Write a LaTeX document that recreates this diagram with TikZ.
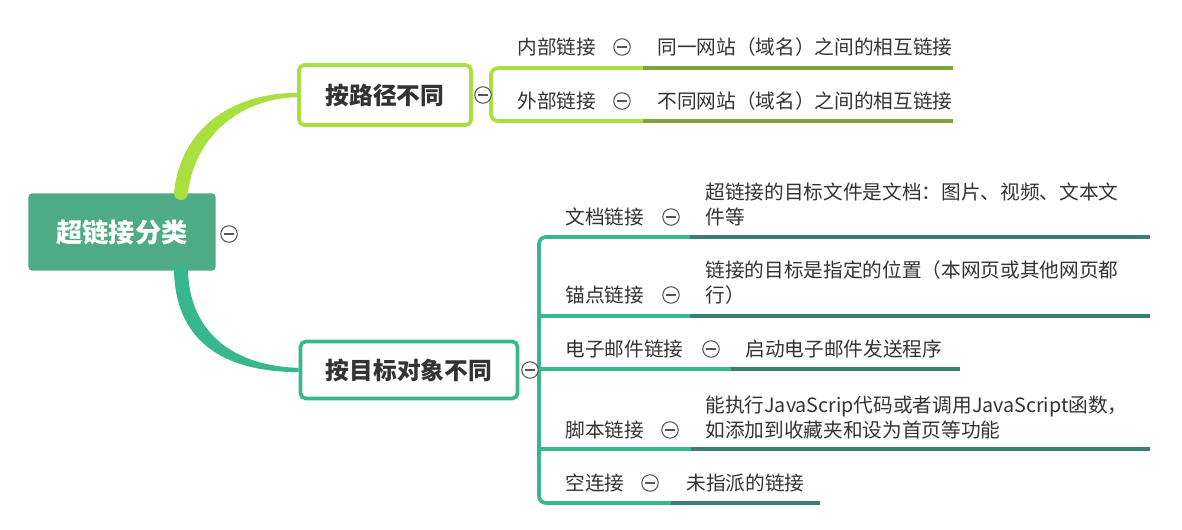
\documentclass[tikz,border=0pt]{standalone}
\usepackage{fontspec}
\setmainfont{Noto Sans CJK SC}
\usetikzlibrary{positioning}

\definecolor{rootgreen}{HTML}{4EAB85}
\definecolor{limegreen}{HTML}{A8E03F}
\definecolor{olivegreen}{HTML}{7EA43A}
\definecolor{tealgreen}{HTML}{38B68E}
\definecolor{darkteal}{HTML}{3A7E74}
\definecolor{textgray}{HTML}{333333}
\definecolor{foldgray}{HTML}{555555}

\tikzset{
    rootbox/.style={fill=rootgreen, draw=white, rounded corners=2pt, minimum width=3.76cm, minimum height=1.56cm, text=white, font=\fontsize{15}{18}\selectfont\bfseries},
    catbox/.style={fill=white, line width=2.1pt, rounded corners=3pt, text=textgray, font=\fontsize{13.5}{16}\selectfont\bfseries},
    leaf/.style={anchor=west, inner sep=0pt, text=textgray, font=\fontsize{11.2}{14.2}\selectfont},
    detail/.style={leaf, align=left},
    fold/.style={circle, draw=foldgray, fill=white, line width=0.6pt, minimum size=0.33cm, inner sep=0pt,
        path picture={\draw[foldgray, line width=0.6pt] ([xshift=-0.1cm]path picture bounding box.center) -- ([xshift=0.1cm]path picture bounding box.center);}},
    limeline/.style={limegreen, line width=2.1pt},
    oliveline/.style={olivegreen, line width=2.1pt},
    tealline/.style={tealgreen, line width=2.1pt},
    darkline/.style={darkteal, line width=2.1pt}
}

\begin{document}
\begin{tikzpicture}[x=0.02cm, y=-0.02cm]
    \useasboundingbox (0,0) rectangle (1182,530);

    % Root
    \node[rootbox] (root) at (122,232) {超链接分类};

    % Categories
    \node[catbox, draw=limegreen, minimum width=3.44cm, minimum height=1.2cm] (bypath) at (385,95) {按路径不同};
    \node[catbox, draw=tealgreen, minimum width=4.34cm, minimum height=1.14cm] (bytarget) at (409,370) {按目标对象不同};

    % Tapered branches
    \coordinate (roottop) at (181,193);
    \coordinate (rootbottom) at (181,271);
    \fill[limegreen] (roottop) circle (7);
    \fill[limegreen] (174,193) .. controls (180,130) and (230,93) .. ([yshift=1.2pt]bypath.west)
        -- ([yshift=-1.2pt]bypath.west) .. controls (236,99) and (194,140) .. (188,193) -- cycle;
    \fill[tealgreen] (rootbottom) circle (7);
    \fill[tealgreen] (174,271) .. controls (176,345) and (228,372) .. ([yshift=-1.2pt]bytarget.west)
        -- ([yshift=1.2pt]bytarget.west) .. controls (236,366) and (190,335) .. (188,271) -- cycle;

    % Path branch leaves
    \draw[limeline, rounded corners=4] (643,68) -- (491,68) -- (491,121) -- (643,121);
    \draw[oliveline] (643,68) -- (953,68);
    \draw[oliveline] (643,121) -- (953,121);

    \node[leaf] (inner) at (517,47) {内部链接};
    \node[fold] (innerfold) at (622,47) {};
    \node[leaf] (innerdesc) at (657,47) {同一网站（域名）之间的相互链接};

    \node[leaf] (outer) at (517,101) {外部链接};
    \node[fold] (outerfold) at (622,101) {};
    \node[leaf] (outerdesc) at (657,101) {不同网站（域名）之间的相互链接};

    % Target branch leaves
    \draw[tealline, rounded corners=4] (690,237) -- (539,237) -- (539,503) -- (671,503);
    \draw[tealline] (539,316) -- (690,316);
    \draw[tealline] (539,369) -- (731,369);
    \draw[tealline] (539,449) -- (691,449);
    \draw[darkline] (690,237) -- (1150,237);
    \draw[darkline] (690,316) -- (1150,316);
    \draw[darkline] (731,369) -- (960,369);
    \draw[darkline] (691,449) -- (1150,449);
    \draw[darkline] (671,503) -- (820,503);

    \node[leaf] (doc) at (565,217) {文档链接};
    \node[fold] (docfold) at (671,217) {};
    \node[detail] (docdesc) at (705,204.5) {超链接的目标文件是文档：图片、视频、文本文\\件等};

    \node[leaf] (anchor) at (565,295) {锚点链接};
    \node[fold] (anchorfold) at (671,295) {};
    \node[detail] (anchordesc) at (705,282.5) {链接的目标是指定的位置（本网页或其他网页都\\行）};

    \node[leaf] (mail) at (565,349) {电子邮件链接};
    \node[fold] (mailfold) at (711,349) {};
    \node[leaf] (maildesc) at (745,349) {启动电子邮件发送程序};

    \node[leaf] (script) at (565,430) {脚本链接};
    \node[fold] (scriptfold) at (670,430) {};
    \node[detail] (scriptdesc) at (705,417.5) {能执行JavaScrip代码或者调用JavaScript函数，\\如添加到收藏夹和设为首页等功能};

    \node[leaf] (empty) at (565,483) {空连接};
    \node[fold] (emptyfold) at (650,483) {};
    \node[leaf] (emptydesc) at (686,483) {未指派的链接};

    % Fold markers
    \node[fold] (rootfold) at (229,234) {};
    \node[fold] (bypathfold) at (483,95) {};
    \node[fold] (bytargetfold) at (530,370) {};
\end{tikzpicture}
\end{document}
